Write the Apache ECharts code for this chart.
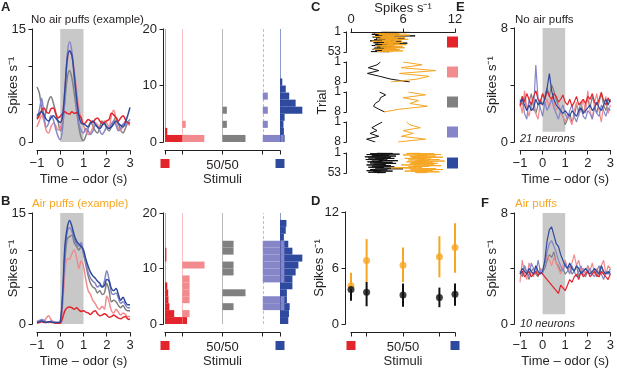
<!DOCTYPE html>
<html>
<head>
<meta charset="utf-8">
<script src="https://cdn.jsdelivr.net/npm/echarts@6/dist/echarts.min.js"></script>
<style>
  html, body { margin: 0; padding: 0; background: #fff; }
  #chart { width: 617px; height: 369px; }
</style>
</head>
<body>
<div id="chart"></div>
<script>
// ---- data ----
const time = [-1,-0.9,-0.8,-0.7,-0.6,-0.5,-0.4,-0.3,-0.2,-0.1,0,0.1,0.2,0.3,0.4,0.5,0.6,0.7,0.8,0.9,1,
  1.1,1.2,1.3,1.4,1.5,1.6,1.7,1.8,1.9,2,2.1,2.2,2.3,2.4,2.5,2.6,2.7,2.8,2.9,3];

// panel A, example neuron, no air puffs
const aGray = [7.3,6.5,4.5,3.2,4.2,5.5,6.0,5.2,4.0,2.8,1.5, 2.5,5.5,8.5,9.5,8.5,6.5,4.2,2.0,0.6,0.2,
  0.8,1.8,2.6,2.2,1.5,1.2,2.0,2.8,2.4,1.8, 1.5,2.0,2.8,3.3,2.5,1.6,1.2,1.8,2.5,2.6];
const aPink = [2.0,2.8,3.5,2.8,1.5,1.2,2.0,2.5,2.2,1.6,1.8, 3.5,7.0,10.5,12.0,11.5,9.5,7.0,4.5,3.0,2.2,
  1.5,1.0,1.2,2.0,2.6,2.3,1.8,2.2,2.8,2.5, 2.0,3.5,4.2,3.0,1.8,1.5,2.2,2.8,2.4,2.2];
const aLav = [3.2,4.2,5.8,3.5,2.0,2.5,3.5,3.0,1.8,0.8,0.3, 1.8,6.0,11.5,13.3,12.0,8.5,5.0,2.5,1.5,1.2,
  1.8,1.5,1.0,1.4,2.2,2.0,1.5,1.0,1.4,2.0, 1.8,2.4,2.8,2.2,1.5,1.8,2.4,2.2,2.6,3.0];
const aBlue = [3.5,3.8,4.0,3.6,3.0,2.8,3.2,3.5,3.2,2.8,2.6, 3.5,7.0,11.0,12.1,11.5,9.0,6.0,3.5,2.5,2.4,
  2.2,2.0,2.5,2.8,2.4,2.0,1.8,2.2,2.5,2.0, 1.8,2.0,2.4,2.8,2.5,2.2,2.0,2.6,3.5,4.6];
const aRed = [3.0,3.5,4.2,4.5,4.0,3.8,4.4,4.5,3.8,3.2,3.4, 3.8,4.0,3.8,3.7,4.0,3.8,3.9,3.6,3.2,2.4,
  2.6,3.0,2.8,2.6,3.0,3.2,2.8,2.5,2.6,2.8, 3.0,3.8,3.6,3.2,2.8,3.2,3.5,3.0,2.6,2.4];

// panel B, example neuron, air puffs
const bRed = [0.1,0.2,0.3,0.2,0.2,0.3,0.2,0.2,0.1,0.1,0.1, 0.8,1.8,2.2,2.3,2.2,2.0,2.2,1.9,1.7,1.8,
  1.6,1.5,1.3,1.6,1.8,1.4,1.1,1.2,1.4,1.2, 0.9,1.0,1.2,1.0,0.8,0.7,0.9,1.0,0.7,0.6];
const bPink = [0.3,0.5,0.4,0.3,0.8,1.1,0.6,0.3,0.2,0.2,0.2, 2.5,7.0,8.8,8.8,9.5,10.0,9.0,7.5,8.5,7.8,
  6.0,4.5,4.0,3.2,2.8,2.2,2.0,2.4,2.0,3.8, 3.0,1.8,1.5,2.0,1.6,1.2,1.5,1.3,1.0,1.0];
const bGray = [0.2,0.3,0.5,0.4,0.3,0.2,0.3,0.2,0.2,0.1,0.2, 3.0,8.5,11.5,11.8,12.0,11.0,10.5,10.0,10.5,9.5,
  8.0,6.5,5.5,5.0,4.8,4.2,4.5,4.0,4.2,5.5, 4.5,3.0,3.2,3.0,2.5,2.2,2.5,2.0,1.8,1.8];
const bLav = [0.3,0.4,0.6,0.5,0.3,0.2,0.4,0.3,0.2,0.2,0.3, 3.5,9.5,12.5,13.0,12.5,11.5,10.8,10.5,11.0,9.5,
  8.5,7.0,6.2,5.8,5.5,5.0,5.2,5.0,5.8,7.2, 6.0,4.2,4.0,4.2,3.5,2.8,3.0,2.6,2.2,2.2];
const bBlue = [0.2,0.3,0.4,0.3,0.2,0.3,0.3,0.2,0.2,0.2,0.3, 4.0,10.5,13.0,14.0,13.2,12.0,11.2,10.8,10.5,10.0,
  8.8,7.8,7.0,6.5,6.2,5.8,5.5,5.0,5.2,6.0, 5.8,4.8,4.5,4.8,4.0,3.2,3.6,3.0,2.6,2.6];

// panel E, population, no air puffs
const eRed = [2.5,3.2,2.8,3.4,3.0,2.6,3.2,3.6,3.0,2.8,3.4, 3.0,3.6,3.2,3.0,3.4,3.2,2.8,3.0,3.3,2.8,
  2.6,3.0,2.5,2.8,3.2,2.6,2.8,3.0,2.7,3.2, 3.0,3.4,2.8,2.6,3.0,3.5,2.9,2.6,3.1,2.8];
const ePink = [2.8,2.0,3.6,2.4,1.8,2.6,3.2,2.0,1.6,2.8,3.4, 2.6,3.0,2.4,3.2,2.8,2.2,2.6,2.0,1.8,1.4,
  2.0,1.6,1.2,2.2,2.8,1.8,2.4,3.0,2.0,3.6, 2.2,1.6,2.8,3.4,2.2,1.4,2.6,3.2,2.0,2.6];
const eGray = [3.0,2.6,3.2,2.2,2.8,3.4,2.4,2.0,2.6,3.0,2.6, 3.2,3.8,3.2,4.0,3.6,3.0,2.6,2.2,1.8,1.2,
  1.6,2.0,1.4,1.8,2.6,2.2,2.8,2.0,2.6,3.0, 2.4,3.2,2.6,2.0,2.8,3.4,2.6,2.2,3.0,2.8];
const eLav = [2.6,3.2,2.0,1.6,3.0,2.4,2.2,5.4,3.0,2.4,1.8, 2.8,2.2,2.6,3.0,2.4,2.0,1.6,2.2,2.6,2.0,
  1.6,2.2,2.6,1.8,1.4,2.0,2.4,1.8,1.6,2.2, 2.0,1.6,2.4,2.0,1.8,2.6,2.2,1.8,2.4,2.2];
const eBlue = [2.8,3.0,2.6,2.2,2.6,2.2,2.4,3.0,2.6,2.8,2.6, 3.0,3.8,4.8,3.6,3.0,2.6,2.4,2.2,2.0,2.2,
  2.0,1.8,2.2,2.0,1.8,2.2,2.4,2.0,2.2,2.4, 2.6,2.2,2.4,2.8,2.4,2.2,2.6,3.0,2.6,3.0];

// panel F, population, air puffs
const fRed = [3.6,3.8,3.4,3.6,3.8,3.4,3.6,3.8,3.5,3.7,3.6, 3.4,3.2,3.0,2.8,2.6,2.4,2.2,2.8,2.6,2.4,
  2.8,3.2,3.0,3.4,3.6,3.2,3.8,3.4,3.6,3.8, 3.4,3.6,3.8,3.5,3.4,3.8,3.6,3.4,3.2,3.6];
const fPink = [3.0,4.6,3.6,3.2,4.4,3.8,3.4,4.2,3.6,4.0,3.8, 4.4,5.0,4.6,4.2,4.8,4.4,4.0,3.6,4.2,4.6,
  4.0,3.8,4.4,5.0,4.2,4.6,3.8,4.0,3.6,4.2, 3.8,4.4,3.6,4.0,3.4,4.2,4.6,3.6,4.2,4.0];
const fGray = [3.8,3.4,4.2,3.6,3.2,3.8,4.0,3.6,3.4,4.0,3.8, 4.0,4.6,5.0,4.8,5.2,4.4,4.2,3.8,4.0,3.6,
  3.8,4.2,3.6,3.8,4.2,3.4,3.8,4.0,3.6,4.2, 3.8,3.6,4.0,3.4,3.8,4.2,3.6,3.8,3.6,4.0];
const fLav = [3.8,3.6,4.2,3.8,3.4,4.4,4.0,3.6,4.6,3.8,3.6, 4.4,5.2,5.8,6.0,5.6,5.2,4.6,4.2,3.8,4.4,
  4.0,3.6,4.2,3.8,3.4,3.8,4.2,3.6,3.4,3.8, 4.0,3.6,3.4,3.8,4.2,3.6,3.2,3.8,3.6,3.8];
const fBlue = [3.6,4.0,3.8,3.6,4.0,3.8,3.6,4.2,3.8,3.6,3.8, 4.6,6.0,6.8,7.0,6.4,5.8,5.6,5.0,4.6,4.2,
  4.0,4.4,4.0,3.8,4.2,4.0,3.6,3.8,4.0,3.8, 3.6,3.8,4.0,3.8,3.6,4.2,3.8,3.6,3.8,3.6];

// histograms: bin width 1.25 spikes/s, 16 bins, widths normalised to the largest bin
const BIN = 1.25;
const histA = [
  [1.0,0.1,0,0,0,0,0,0,0,0,0,0,0,0,0,0],
  [0.96,0,0.15,0,0,0,0,0,0,0,0,0,0,0,0,0],
  [1.0,0,0.19,0,0.19,0,0,0,0,0,0,0,0,0,0,0],
  [0.91,0,0.22,0,0.22,0,0.22,0,0,0,0,0,0,0,0,0],
  [0.2,0.17,0.15,0.2,0.97,0.68,0.4,0.25,0.1,0,0,0,0,0,0,0]
];
const histB = [
  [0.96,0.4,0.19,0.15,0.14,0.1,0,0,0,0.06,0.06,0,0,0,0,0],
  [0,0.32,0,0.32,0.32,0.32,0.32,0,0.97,0,0,0,0,0,0,0],
  [0,0,0.48,0,1.0,0,0,0.48,0.48,0,0.48,0.48,0,0,0,0],
  [0,0,0.94,0.94,0,0,0.94,0.94,0.94,0.94,0.94,0.94,0,0,0,0],
  [0.36,0.39,0.42,0.3,0.3,0.54,0.54,0.68,0.8,0.97,0.54,0.36,0.17,0.25,0.28,0]
];

// panel C, trial by trial rates (black = no puff, orange = puff)
const c1Black = [3.5,6.8,2.6,4.2,3.0,5.5,2.4,3.8,4.6,2.8, 7.4,3.2,4.0,2.5,5.2,3.6,2.9,4.4,6.2,3.1,
  2.7,4.8,3.4,2.2,5.8,3.9,3.0,4.3,2.6,6.5, 3.3,4.1,2.8,3.7,5.0,2.4,3.6,4.7,3.0,2.9,
  6.0,3.5,2.7,4.2,3.8,2.5,5.4,3.2,4.0,2.8, 3.6,2.3,4.4];
const c1Orange = [5.2,3.8,6.4,4.0,2.8,5.6,4.4,3.2,6.8,4.6, 3.6,5.0,2.6,4.8,6.2,3.4,5.4,4.2,3.0,6.6,
  4.0,5.8,3.6,4.6,2.4,5.2,4.4,6.0,3.8,4.8, 3.2,5.6,4.2,6.4,3.6,5.0,2.8,4.6,5.8,3.4,
  4.4,6.2,3.8,5.2,4.0,2.6,5.6,4.4,3.6,6.0, 4.2,3.0,4.8];
const c2Black = [3.4,3.0,2.0,3.2,1.9,3.3,4.6,6.8];
const c2Orange = [6.0,8.2,5.8,9.8,5.6,9.0,7.6,4.6];
const c3Black = [3.3,4.0,3.4,3.3,2.8,2.6,3.2,3.9];
const c3Orange = [6.6,8.6,6.0,7.8,6.8,8.8,5.6,3.8];
const c4Black = [3.6,3.0,2.4,3.0,2.2,3.2,1.8,2.8];
const c4Orange = [6.4,6.8,8.0,6.0,7.2,5.8,8.6,5.4];
const c5Black = [3.0,4.8,2.2,5.6,1.8,3.6,4.4,2.4,5.2,3.0, 1.6,4.6,3.4,2.0,5.0,2.8,3.8,1.7,4.2,3.2,
  5.4,2.4,3.6,1.9,4.8,3.0,2.2,5.2,3.4,2.6, 4.0,1.8,3.6,4.6,2.4,3.2,5.0,2.0,3.8,2.8,
  4.4,6.0,3.0,2.2,4.2,3.6,1.8,4.8,2.6,3.4, 2.0,4.0,3.0];
const c5Orange = [8.0,6.4,9.6,7.2,10.4,6.0,8.8,7.6,9.8,6.8, 8.4,10.6,7.0,9.2,6.2,8.6,7.8,10.2,6.6,9.0,
  7.4,10.8,8.2,6.4,9.4,7.0,8.8,10.0,6.8,9.6, 7.6,5.8,8.4,10.4,7.2,9.0,6.6,8.2,5.2,4.6,
  7.8,9.8,6.8,10.6,8.0,7.0,9.4,6.2,8.6,10.2, 7.4,8.8,7.6];

// panel D, mean and spread per stimulus
const stimPos = [0, 0.15, 0.5, 0.85, 1];
const dPuffMean = [4.1, 6.8, 6.3, 7.2, 8.2];
const dPuffLo = [3.2, 4.5, 4.5, 5.0, 5.5];
const dPuffHi = [5.5, 9.1, 8.2, 9.4, 10.8];
const dNoMean = [3.7, 3.4, 3.1, 2.85, 3.2];
const dNoLo = [2.5, 1.9, 1.85, 1.8, 1.95];
const dNoHi = [4.0, 4.5, 4.35, 3.9, 4.35];

// tick values of each axis
const timeTicks = [-1, 0, 1, 2, 3];
const rateTicksAB = [0, 5, 10, 15];
const histTicks = [0, 10, 20];
const rateTicksC = [0, 6, 12];
const rateTicksD = [0, 6, 12];
const rateTicksEF = [0, 4, 8];

// ---- style ----
const FONT = '"Liberation Sans", Arial, Helvetica, sans-serif';
const INK = '#231f20';
const COL = ['#e3242b', '#f28b8e', '#808080', '#8585c8', '#2e4a9e'];
const ORANGE = '#f6a623';
const SHADE = '#c8c8c8';
const WSCALE = 0.2;

const grids = [
  { left: 37, top: 29, width: 93, height: 113 },
  { left: 165, top: 29, width: 115, height: 113 },
  { left: 37, top: 213, width: 93, height: 113 },
  { left: 165, top: 213, width: 115, height: 113 },
  { left: 351, top: 32, width: 104, height: 20 },
  { left: 351, top: 62, width: 104, height: 20 },
  { left: 351, top: 92, width: 104, height: 20 },
  { left: 351, top: 122, width: 104, height: 20 },
  { left: 351, top: 153, width: 104, height: 20 },
  { left: 351, top: 212, width: 104, height: 113 },
  { left: 520, top: 28, width: 94, height: 114 },
  { left: 520, top: 213, width: 94, height: 113 }
];

// the library's axis lines are switched off; lines and ticks are drawn by a custom series below
const line = () => ({ show: false, onZero: false });
const noTick = { show: false };
const nameStyle = { color: INK, fontSize: 13, fontFamily: FONT };
function lab(extra) {
  return Object.assign({ color: INK, fontSize: 13, fontFamily: FONT, margin: 4 }, extra);
}

function timeX(g) {
  return {
    type: 'value', gridIndex: g, min: -1, max: 3, interval: 1, offset: 8,
    axisLine: line(), axisTick: noTick, splitLine: { show: false },
    axisLabel: lab({ margin: 7, formatter: v => (v < 0 ? '\u2212' + (-v) : String(v)) }),
    name: 'Time \u2013 odor (s)', nameLocation: 'middle', nameGap: 23, nameMoveOverlap: false,
    nameTextStyle: nameStyle
  };
}
function stimX(g) {
  return {
    type: 'value', gridIndex: g, min: 0, max: 1, offset: 8,
    axisLine: line(), axisTick: noTick, splitLine: { show: false },
    axisLabel: lab({
      margin: 9, customValues: [0, 0.5, 1],
      formatter: v => (v === 0 ? '{r| }' : v === 1 ? '{b| }' : '50/50'),
      rich: {
        r: { backgroundColor: COL[0], width: 9, height: 9 },
        b: { backgroundColor: COL[4], width: 9, height: 9 }
      }
    }),
    name: 'Stimuli', nameLocation: 'middle', nameGap: 23, nameMoveOverlap: false, nameTextStyle: nameStyle
  };
}
function rateY(g, max, step, shown, gap, off) {
  return {
    type: 'value', gridIndex: g, min: 0, max: max, interval: step, offset: off,
    axisLine: line(), axisTick: noTick, splitLine: { show: false },
    axisLabel: lab({ margin: 6, formatter: v => (shown.indexOf(v) >= 0 ? String(v) : '') }),
    name: 'Spikes s\u207B\u00B9', nameLocation: 'middle', nameGap: gap, nameMoveOverlap: false,
    nameTextStyle: nameStyle
  };
}
function histY(g) {
  return {
    type: 'value', gridIndex: g, min: 0, max: 20, interval: 10, offset: 2,
    axisLine: line(), axisTick: noTick, splitLine: { show: false }, axisLabel: lab({ margin: 6 })
  };
}
function trialY(g, n, withName) {
  const ax = {
    type: 'value', gridIndex: g, inverse: true, min: 1, max: n, offset: 5,
    axisLine: line(), axisTick: noTick, splitLine: { show: false },
    axisLabel: lab({ fontSize: 12, margin: 5, customValues: [1, n] })
  };
  if (withName) {
    Object.assign(ax, { name: 'Trial', nameLocation: 'middle', nameGap: 17, nameMoveOverlap: false,
      nameTextStyle: nameStyle });
  }
  return ax;
}

const xAxes = [
  timeX(0), stimX(1), timeX(2), stimX(3),
  {
    type: 'value', gridIndex: 4, position: 'top', min: 0, max: 12, interval: 6,
    axisLine: line(), axisTick: noTick, splitLine: { show: false }, axisLabel: lab({ margin: 6 }),
    name: 'Spikes s\u207B\u00B9', nameLocation: 'middle', nameGap: 17, nameMoveOverlap: false,
    nameTextStyle: nameStyle
  },
  { type: 'value', gridIndex: 5, min: 0, max: 12, show: false },
  { type: 'value', gridIndex: 6, min: 0, max: 12, show: false },
  { type: 'value', gridIndex: 7, min: 0, max: 12, show: false },
  { type: 'value', gridIndex: 8, min: 0, max: 12, show: false },
  stimX(9), timeX(10), timeX(11)
];
const yAxes = [
  rateY(0, 15, 5, [0, 15], 12, 5), histY(1), rateY(2, 15, 5, [0, 15], 12, 5), histY(3),
  trialY(4, 53), trialY(5, 8), trialY(6, 8, true), trialY(7, 8), trialY(8, 53),
  rateY(9, 12, 6, [0, 6, 12], 19, 6), rateY(10, 8, 4, [0, 8], 15, 6), rateY(11, 8, 4, [0, 8], 15, 6)
];

// [grid, direction, ticks, offset in px, side, tick length]
const axisSpecs = [
  [0, 'x', timeTicks, 8, 'bottom', 4], [0, 'y', rateTicksAB, 5, 'left', 4],
  [1, 'x', stimPos, 8, 'bottom', 4], [1, 'y', histTicks, 2, 'left', 4],
  [2, 'x', timeTicks, 8, 'bottom', 4], [2, 'y', rateTicksAB, 5, 'left', 4],
  [3, 'x', stimPos, 8, 'bottom', 4], [3, 'y', histTicks, 2, 'left', 4],
  [4, 'x', rateTicksC, 0, 'top', 4], [4, 'y', [1, 53], 5, 'left', 3],
  [5, 'y', [1, 8], 5, 'left', 3], [6, 'y', [1, 8], 5, 'left', 3],
  [7, 'y', [1, 8], 5, 'left', 3], [8, 'y', [1, 53], 5, 'left', 3],
  [9, 'x', stimPos, 8, 'bottom', 4], [9, 'y', rateTicksD, 6, 'left', 4],
  [10, 'x', timeTicks, 8, 'bottom', 4], [10, 'y', rateTicksEF, 6, 'left', 4],
  [11, 'x', timeTicks, 8, 'bottom', 4], [11, 'y', rateTicksEF, 6, 'left', 4]
];

// ---- series ----
const series = [];

function traces(g, sets, smooth, w) {
  sets.forEach(([ys, c]) => series.push({
    type: 'line', xAxisIndex: g, yAxisIndex: g, z: 3, smooth: smooth, symbol: 'none',
    data: time.map((t, i) => [t, ys[i]]),
    lineStyle: { color: c, width: w }, itemStyle: { color: c }
  }));
}
function shading(g, ymin, ymax, ylow) {
  series.push({
    type: 'line', xAxisIndex: g, yAxisIndex: g, z: 1, clip: false, symbol: 'none',
    data: [[0, 0]], lineStyle: { opacity: 0 }, silent: true,
    markArea: {
      silent: true, itemStyle: { color: SHADE },
      data: [[{ coord: [0, ymin] }, { coord: [1, ymax] }]]
    },
    markLine: {
      silent: true, symbol: ['none', 'none'], label: { show: false },
      lineStyle: { color: INK, width: 1.2, type: [4, 3] },
      data: [[{ coord: [2, ylow] }, { coord: [2, ymax] }]]
    }
  });
}

shading(0, 0, 15, -1.06);
traces(0, [[aGray, COL[2]], [aPink, COL[1]], [aLav, COL[3]], [aRed, COL[0]], [aBlue, COL[4]]], 0.35, 1.5);
shading(2, 0, 15, -1.06);
traces(2, [[bGray, COL[2]], [bPink, COL[1]], [bLav, COL[3]], [bRed, COL[0]], [bBlue, COL[4]]], 0.35, 1.5);
shading(10, 0.72, 8, -0.56);
traces(10, [[eGray, COL[2]], [ePink, COL[1]], [eLav, COL[3]], [eRed, COL[0]], [eBlue, COL[4]]], false, 1.2);
shading(11, 0.7, 8, -0.57);
traces(11, [[fGray, COL[2]], [fPink, COL[1]], [fLav, COL[3]], [fRed, COL[0]], [fBlue, COL[4]]], false, 1.2);

// histograms
const drawOrder = [0, 1, 2, 4, 3];
function histData(h) {
  const out = [];
  drawOrder.forEach(s => h[s].forEach((w, k) => {
    if (w > 0) out.push([stimPos[s], k * BIN, (k + 1) * BIN, w, s]);
  }));
  return out;
}
function histItem(params, api) {
  const lo = api.coord([api.value(0), api.value(1)]);
  const hi = api.coord([api.value(0) + api.value(3) * WSCALE, api.value(2)]);
  return {
    type: 'rect',
    shape: { x: lo[0], y: hi[1], width: hi[0] - lo[0], height: lo[1] - hi[1] },
    style: { fill: COL[api.value(4)] }
  };
}
[[1, histA], [3, histB]].forEach(([g, h]) => {
  series.push({
    type: 'line', xAxisIndex: g, yAxisIndex: g, z: 1, symbol: 'none', silent: true,
    data: [[0, 0]], lineStyle: { opacity: 0 },
    markLine: {
      silent: true, symbol: ['none', 'none'], label: { show: false },
      data: stimPos.map((p, s) => ({
        xAxis: p,
        lineStyle: { color: COL[s], opacity: 0.55, width: 1, type: s === 3 ? [3, 2] : 'solid' }
      }))
    }
  });
  series.push({
    type: 'custom', xAxisIndex: g, yAxisIndex: g, z: 2, clip: false,
    renderItem: histItem, data: histData(h)
  });
});

// panel C
[[4, c1Black, c1Orange], [5, c2Black, c2Orange], [6, c3Black, c3Orange],
 [7, c4Black, c4Orange], [8, c5Black, c5Orange]].forEach(([g, k, o]) => {
  [[k, '#111111'], [o, ORANGE]].forEach(([vals, c]) => series.push({
    type: 'line', xAxisIndex: g, yAxisIndex: g, symbol: 'none',
    data: vals.map((v, i) => [v, i + 1]),
    lineStyle: { color: c, width: 1 }
  }));
});

// panel D
function errItem(color) {
  return function (params, api) {
    const a = api.coord([api.value(0), api.value(1)]);
    const b = api.coord([api.value(0), api.value(2)]);
    return { type: 'line', shape: { x1: a[0], y1: a[1], x2: b[0], y2: b[1] }, style: { stroke: color, lineWidth: 2 } };
  };
}
[[dPuffMean, dPuffLo, dPuffHi, ORANGE], [dNoMean, dNoLo, dNoHi, '#111111']].forEach(([m, lo, hi, c]) => {
  series.push({
    type: 'custom', xAxisIndex: 9, yAxisIndex: 9, renderItem: errItem(c),
    data: stimPos.map((x, i) => [x, lo[i], hi[i]])
  });
  series.push({
    type: 'scatter', xAxisIndex: 9, yAxisIndex: 9, symbolSize: 7,
    itemStyle: { color: c }, data: stimPos.map((x, i) => [x, m[i]])
  });
});

// detached axis lines and ticks, one custom series per axis, placed through the grid's scales
const crisp = v => Math.round(v - 0.5) + 0.5;
function axisRenderer(spec) {
  const [g, dir, ticks, off, side, len] = spec;
  const xa = xAxes[g], ya = yAxes[g];
  const style = { stroke: INK, lineWidth: 1 };
  return function (params, api) {
    const children = [];
    if (dir === 'x') {
      const yv = api.value(1);
      const a = api.coord([xa.min, yv]), b = api.coord([xa.max, yv]);
      const y = crisp(a[1] + (side === 'top' ? -off : off));
      if (params.dataIndex === 0) {
        children.push({ type: 'line', shape: { x1: a[0] - 0.5, y1: y, x2: b[0] + 0.5, y2: y }, style: style });
      }
      const x = crisp(api.coord([api.value(0), yv])[0]);
      children.push({ type: 'line', shape: { x1: x, y1: y, x2: x, y2: side === 'top' ? y - len : y + len }, style: style });
    } else {
      const xv = api.value(0);
      const a = api.coord([xv, ya.min]), b = api.coord([xv, ya.max]);
      const x = crisp(a[0] - off);
      if (params.dataIndex === 0) {
        children.push({ type: 'line',
          shape: { x1: x, y1: Math.max(a[1], b[1]) + 0.5, x2: x, y2: Math.min(a[1], b[1]) - 0.5 }, style: style });
      }
      const y = crisp(api.coord([xv, api.value(1)])[1]);
      children.push({ type: 'line', shape: { x1: x, y1: y, x2: x - len, y2: y }, style: style });
    }
    return { type: 'group', children: children };
  };
}
axisSpecs.forEach(spec => {
  const [g, dir, ticks, off, side] = spec;
  const xa = xAxes[g], ya = yAxes[g];
  const edgeY = side === 'top' ? ya.min : (ya.inverse ? ya.max : ya.min);
  series.push({
    type: 'custom', xAxisIndex: g, yAxisIndex: g, z: 5, silent: true, clip: false,
    renderItem: axisRenderer(spec),
    data: ticks.map(t => (dir === 'x' ? [t, edgeY] : [xa.min, t]))
  });
});

// ---- annotations ----
function txt(x, y, s, extra) {
  return {
    type: 'text', x: x, y: y,
    style: Object.assign({ text: s, fill: INK, fontFamily: FONT, fontSize: 11.5, verticalAlign: 'middle' }, extra)
  };
}
const bold = { fontWeight: 'bold', fontSize: 13 };
const graphic = [
  txt(1, 7, 'A', bold), txt(1, 201, 'B', bold), txt(311, 7, 'C', bold),
  txt(311, 201, 'D', bold), txt(456, 7, 'E', bold), txt(481, 203, 'F', bold),
  txt(31, 20, 'No air puffs (example)'),
  txt(32, 204, 'Air puffs (example)', { fill: ORANGE }),
  txt(515, 20, 'No air puffs'),
  txt(515, 204, 'Air puffs', { fill: ORANGE }),
  txt(520, 139, '21 neurons', { fontStyle: 'italic', fontSize: 11 }),
  txt(520, 324, '10 neurons', { fontStyle: 'italic', fontSize: 11 })
];
[42, 72, 102, 132, 163].forEach((cy, s) => graphic.push({
  type: 'rect', shape: { x: 447, y: cy - 5.5, width: 11, height: 11 }, style: { fill: COL[s] }
}));

const chart = echarts.init(document.getElementById('chart'));
chart.setOption({
  animation: false,
  grid: grids,
  xAxis: xAxes,
  yAxis: yAxes,
  series: series,
  graphic: graphic
});
</script>
</body>
</html>
